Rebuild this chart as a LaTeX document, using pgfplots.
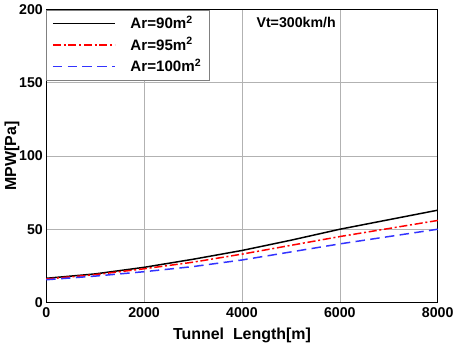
\documentclass[border=0pt]{standalone}
\usepackage{pgfplots}
\pgfplotsset{compat=1.18}
\usepackage{fontspec}
\setmainfont{Liberation Sans}
\begin{document}
\begin{tikzpicture}
\begin{axis}[
  scale only axis, width=290pt, height=217pt,
  xmin=0, xmax=8000, ymin=0, ymax=200,
  xtick={0,2000,4000,6000,8000}, ytick={0,50,100,150,200},
  /pgf/number format/assume math mode=true,
  /pgf/number format/1000 sep={},
  scaled x ticks=false,
  tick label style={font=\bfseries\fontsize{10.5}{12}\selectfont},
  yticklabel style={xshift=1pt},
  xlabel={Tunnel\ \ Length[m]}, ylabel={MPW[Pa]},
  label style={font=\bfseries\fontsize{11.8}{13}\selectfont},
  xlabel style={yshift=-1pt},
  ylabel style={yshift=-7pt},
  grid=major, major grid style={gray!60, line width=0.5pt},
  axis line style={line width=0.9pt},
  tick style={draw=none},
  legend style={at={(0,1)}, anchor=north west, draw=gray, line width=0.6pt, font=\bfseries\fontsize{11.2}{13}\selectfont, cells={anchor=west}, inner xsep=4pt, inner ysep=2.5pt, row sep=1pt},
  legend cell align=left,
  legend image code/.code={\draw[#1] (0pt,0pt) -- (46pt,0pt);},
  clip=false,
]
\addplot[black, line width=1.1pt] coordinates {(0,16.5)(1000,19.5)(2000,24)(3000,29.5)(4000,35.5)(5000,42.5)(6000,50)(7000,56.5)(8000,63)};
\addlegendentry{\hspace{9pt}Ar=90m$^{\mathbf{2}}$}
\addplot[red, line width=1.1pt, dash pattern=on 6pt off 2pt on 1.5pt off 2pt] coordinates {(0,16)(1000,19)(2000,23)(3000,27.5)(4000,33)(5000,39)(6000,45)(7000,50.5)(8000,56)};
\addlegendentry{\hspace{9pt}Ar=95m$^{\mathbf{2}}$}
\addplot[blue!80, line width=1.1pt, dash pattern=on 7pt off 4pt] coordinates {(0,15.5)(1000,18)(2000,21)(3000,24.5)(4000,29)(5000,34.5)(6000,40)(7000,45)(8000,50)};
\addlegendentry{\hspace{9pt}Ar=100m$^{\mathbf{2}}$}
\node[font=\bfseries\fontsize{10.5}{12}\selectfont, anchor=north west] at (axis cs:4200,198) {Vt=300km/h};
\end{axis}
\end{tikzpicture}
\end{document}
